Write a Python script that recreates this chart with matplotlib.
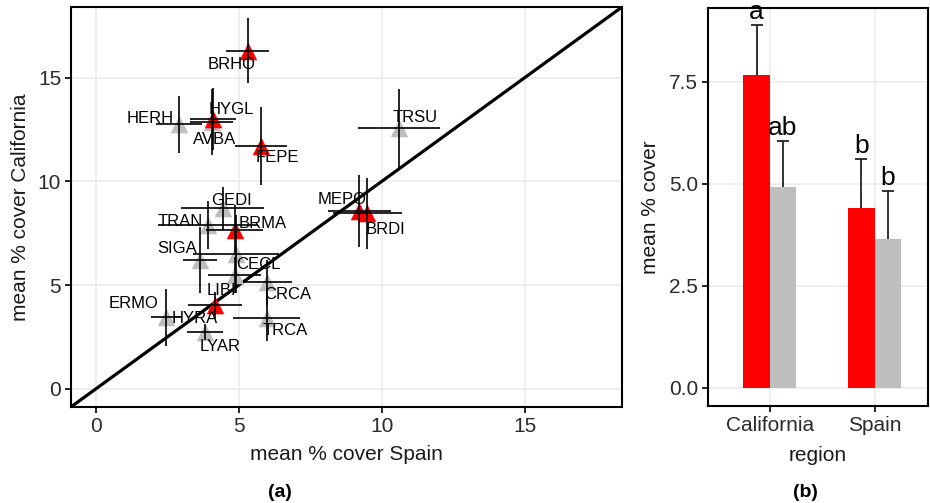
import matplotlib.pyplot as plt
import numpy as np

plt.rcParams['font.family'] = ['Liberation Sans', 'DejaVu Sans']

# panel (a): species means, Spain vs California
species = ['BRHO', 'HERH', 'HYGL', 'AVBA', 'FEPE', 'TRSU', 'MEPO', 'BRDI', 'GEDI', 'TRAN',
           'BRMA', 'SIGA', 'CECL', 'LIBI', 'CRCA', 'ERMO', 'HYRA', 'LYAR', 'TRCA']
spain = [5.31, 2.9, 4.1, 4.05, 5.77, 10.6, 9.22, 9.5, 4.44, 3.92,
         4.86, 3.64, 4.9, 4.86, 6.0, 2.45, 4.16, 3.81, 5.98]
calif = [16.3, 12.74, 13.0, 12.85, 11.7, 12.55, 8.56, 8.46, 8.7, 7.88,
         7.64, 6.2, 6.5, 5.48, 5.14, 3.46, 4.04, 2.74, 3.41]
spain_se = [0.75, 0.8, 0.8, 0.75, 0.92, 1.42, 1.1, 1.22, 1.45, 1.76,
            1.0, 0.58, 1.5, 0.93, 0.87, 0.52, 0.95, 0.63, 1.17]
calif_se = [1.55, 1.35, 1.5, 1.6, 1.87, 1.9, 1.73, 1.7, 1.05, 1.15,
            1.2, 1.6, 1.9, 0.87, 1.08, 1.37, 0.65, 0.4, 1.08]
red_flag = [1, 0, 1, 0, 1, 0, 1, 1, 0, 0, 1, 0, 0, 0, 0, 0, 1, 0, 0]

# label offsets in pixels (repel-like placement)
lab_dx = [-16, -29, 18, 3, 17, 16, -17, 18, 9, -28, 28, -23, 22, -13, 20, -32, -20, 15, 18]
lab_dy = [-14, 6, 10, -17, -11, 11, 12, -16, 8, 4, 7, 12, -11, -15, -12, 14, -13, -14, -12]

# panel (b): bars
regions = ['California', 'Spain']
red_mean = [7.67, 4.41]
red_se = [1.23, 1.21]
grey_mean = [4.93, 3.65]
grey_se = [1.12, 1.18]
red_let = ['a', 'b']
grey_let = ['ab', 'b']

RED = '#FF0000'
GREY = '#BEBEBE'
GRID = '#EBEBEB'

fig = plt.figure(figsize=(9.3, 5.03), dpi=100)
ax1 = fig.add_axes([0.0763, 0.191, 0.5925, 0.795])
ax2 = fig.add_axes([0.761, 0.193, 0.237, 0.791])

lim = (-0.87, 18.4)
ax1.plot(lim, lim, color='black', lw=2.3, zorder=2, solid_capstyle='butt')

spain = np.array(spain)
calif = np.array(calif)
red_flag = np.array(red_flag, dtype=bool)
ax1.scatter(spain[~red_flag], calif[~red_flag], marker='^', s=160, color=GREY,
            linewidths=0, zorder=3)
ax1.scatter(spain[red_flag], calif[red_flag], marker='^', s=160, color=RED,
            linewidths=0, zorder=4)
ax1.errorbar(spain, calif, xerr=spain_se, yerr=calif_se, fmt='none',
             ecolor='black', elinewidth=1.2, capsize=0, zorder=5)
for i, name in enumerate(species):
    ax1.annotate(name, (spain[i], calif[i]), xytext=(lab_dx[i], lab_dy[i]),
                 textcoords='offset pixels', ha='center', va='center',
                 fontsize=12, zorder=6)

ax1.set_xlim(lim)
ax1.set_ylim(lim)
ax1.set_xticks([0, 5, 10, 15])
ax1.set_yticks([0, 5, 10, 15])
ax1.grid(color=GRID, lw=1.2)
ax1.set_axisbelow(True)
ax1.set_xlabel('mean % cover Spain', fontsize=15, color='#1a1a1a', labelpad=7)
ax1.set_ylabel('mean % cover California', fontsize=15, color='#1a1a1a', labelpad=6)

x = np.arange(1, len(regions) + 1)
w = 0.25
ax2.bar(x - w / 2, red_mean, width=w, color=RED, zorder=3)
ax2.bar(x + w / 2, grey_mean, width=w, color=GREY, zorder=3)
# upper error bars only, cap at top
for xs, m, se in ((x - w / 2, red_mean, red_se), (x + w / 2, grey_mean, grey_se)):
    tops = np.array(m) + np.array(se)
    ax2.vlines(xs, m, tops, color='#222222', lw=1.3, zorder=4)
    ax2.plot(xs, tops, ls='none', marker='_', markersize=9, mew=1.3,
             color='#222222', zorder=4)
for i in range(len(regions)):
    ax2.text(x[i] - w / 2, red_mean[i] + red_se[i] + 0.02, red_let[i],
             ha='center', va='bottom', fontsize=19)
    ax2.text(x[i] + w / 2, grey_mean[i] + grey_se[i] + 0.02, grey_let[i],
             ha='center', va='bottom', fontsize=19)
ax2.set_xlim(0.41, 2.51)
ax2.set_ylim(-0.44, 9.31)
ax2.set_xticks(x)
ax2.set_xticklabels(regions)
ax2.set_yticks([0, 2.5, 5, 7.5])
ax2.set_yticklabels(['0.0', '2.5', '5.0', '7.5'])
ax2.grid(color=GRID, lw=1.2)
ax2.set_axisbelow(True)
ax2.set_xlabel('region', fontsize=15, color='#1a1a1a', labelpad=8)
ax2.set_ylabel('mean % cover', fontsize=15, color='#1a1a1a', labelpad=6)

for ax in (ax1, ax2):
    for s in ax.spines.values():
        s.set_linewidth(1.5)
        s.set_color('black')
    ax.tick_params(labelsize=15, length=4, width=1.2, colors='black',
                   labelcolor='#2b2b2b', pad=3)

fig.text(0.301, 0.012, '(a)', fontsize=14, fontweight='bold', ha='center')
fig.text(0.866, 0.012, '(b)', fontsize=14, fontweight='bold', ha='center')

fig.savefig('out.png', dpi=100)
